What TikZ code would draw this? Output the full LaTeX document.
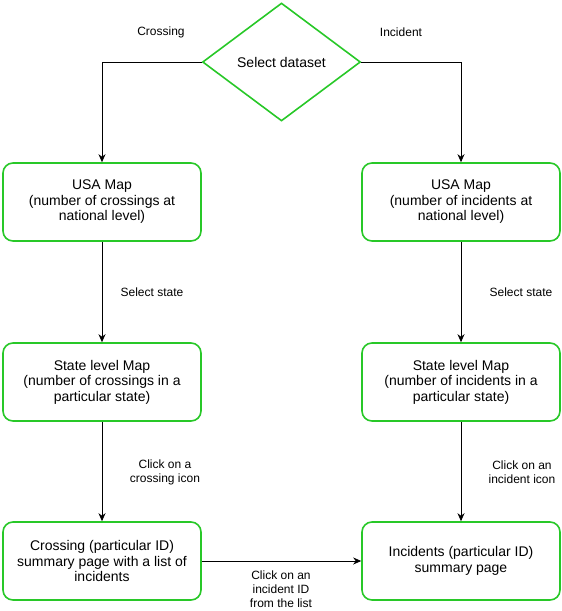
\documentclass[tikz,border=0pt]{standalone}
\usepackage{fontspec}
\setmainfont{Liberation Sans}
\usetikzlibrary{shapes.geometric,arrows.meta}
\definecolor{boxgreen}{RGB}{40,200,40}
\begin{document}
\begin{tikzpicture}[x=1pt,y=-1pt,
  stepbox/.style={draw=boxgreen,line width=1.6pt,rounded corners=10pt,minimum width=198pt,minimum height=78pt,align=center,font=\fontsize{14}{15.5}\selectfont,inner sep=0pt},
  decision/.style={draw=boxgreen,line width=1.6pt,diamond,minimum width=158pt,minimum height=118pt,inner sep=0pt,aspect=1.33,font=\fontsize{14}{15.5}\selectfont},
  conn/.style={draw=black,line width=0.8pt,-{Stealth[length=8pt,width=7pt,inset=2.5pt]}},
  lbl/.style={align=center,font=\fontsize{12}{14}\selectfont,inner sep=0pt}]
\useasboundingbox (0,0) rectangle (562,611);
\node[decision] (sel) at (281.5,62) {Select dataset};
\node[stepbox] (usa1) at (102,202) {USA Map\\(number of crossings at\\national level)};
\node[stepbox] (usa2) at (461,202) {USA Map\\(number of incidents at\\national level)};
\node[stepbox] (st1) at (102,382) {State level Map\\(number of crossings in a\\particular state)};
\node[stepbox] (st2) at (461,382) {State level Map\\(number of incidents in a\\particular state)};
\node[stepbox] (sum1) at (102,561) {Crossing (particular ID)\\summary page with a list of\\incidents};
\node[stepbox] (sum2) at (461,561) {Incidents (particular ID)\\summary page};
\draw[conn] (sel.west) -| (usa1);
\draw[conn] (sel.east) -| (usa2);
\draw[conn] (usa1) -- (st1);
\draw[conn] (usa2) -- (st2);
\draw[conn] (st1) -- (sum1);
\draw[conn] (st2) -- (sum2);
\draw[conn] (sum1) -- (sum2);
\node[lbl] (lc) at (161,32) {Crossing};
\node[lbl] (li) at (401,32) {Incident};
\node[lbl] (ls1) at (152,292) {Select state};
\node[lbl] (ls2) at (521,292) {Select state};
\node[lbl] (lk1) at (165,472) {Click on a\\crossing icon};
\node[lbl] (lk2) at (522,472) {Click on an\\incident icon};
\node[lbl] (lk3) at (281,589.5) {Click on an\\incident ID\\from the list};
\end{tikzpicture}
\end{document}
